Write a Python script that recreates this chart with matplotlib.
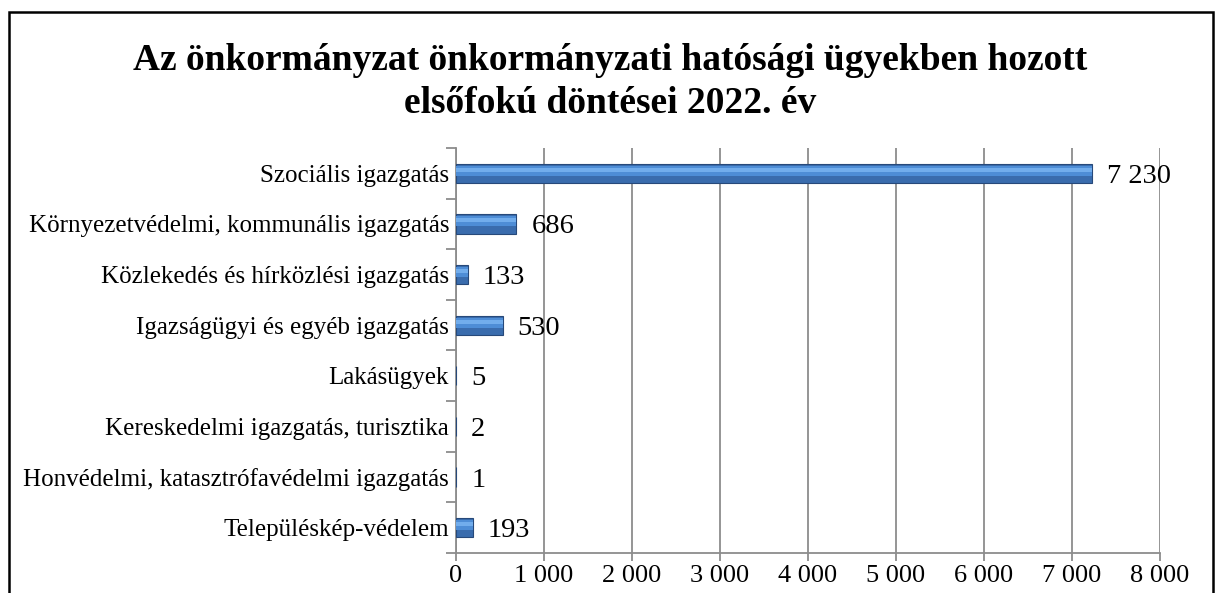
import matplotlib.pyplot as plt
import matplotlib.patches as mpatches
from matplotlib.ticker import FuncFormatter, FixedLocator

plt.rcParams['font.family'] = ['Liberation Serif', 'DejaVu Serif']

# Data
categories = [
    "Szociális igazgatás",
    "Környezetvédelmi, kommunális igazgatás",
    "Közlekedés és hírközlési igazgatás",
    "Igazságügyi és egyéb igazgatás",
    "Lakásügyek",
    "Kereskedelmi igazgatás, turisztika",
    "Honvédelmi, katasztrófavédelmi igazgatás",
    "Településkép-védelem",
]
values = [7230, 686, 133, 530, 5, 2, 1, 193]
x_ticks = [0, 1000, 2000, 3000, 4000, 5000, 6000, 7000, 8000]

title = "Az önkormányzat önkormányzati hatósági ügyekben hozott\nelsőfokú döntései 2022. év"

fig = plt.figure(figsize=(12.17, 5.93), dpi=100)
ax = fig.add_axes([0.3747, 0.0675, 0.5785, 0.683])

pos = list(range(len(categories)))[::-1]

# bars with a simple bevel look
ax.barh(pos, values, height=0.38, color="#3A6CAD", edgecolor="#27497A", linewidth=0.8, zorder=3)
ax.barh([p + 0.05 for p in pos], values, height=0.2, color="#4E8DD6", linewidth=0, zorder=4)
ax.barh([p + 0.07 for p in pos], values, height=0.08, color="#72ADEC", linewidth=0, zorder=4)

for p, v in zip(pos, values):
    ax.text(v + 170, p, f"{v:,}".replace(",", " "), va="center_baseline", ha="left",
            fontsize=20.5, zorder=5)

ax.set_xlim(0, 8000)
ax.set_ylim(-0.5, len(categories) - 0.5)
ax.set_xticks(x_ticks)
ax.xaxis.set_major_formatter(FuncFormatter(lambda x, _: f"{int(x):,}".replace(",", " ")))
ax.set_yticks(pos)
ax.set_yticklabels(categories, fontsize=18)
ax.yaxis.set_minor_locator(FixedLocator([p - 0.5 for p in range(len(categories) + 1)]))

ax.grid(axis="x", color="#8C8C8C", linewidth=1.3, zorder=0)
ax.tick_params(axis="x", labelsize=19, length=6, width=1.3, color="#8C8C8C", pad=3)
ax.tick_params(axis="y", which="major", length=0, pad=5)
ax.tick_params(axis="y", which="minor", length=7, width=1.3, color="#8C8C8C")
for s in ["top", "right"]:
    ax.spines[s].set_visible(False)
for s in ["left", "bottom"]:
    ax.spines[s].set_color("#8C8C8C")
    ax.spines[s].set_linewidth(1.3)

fig.text(0.501, 0.862, title, ha="center", va="center", fontsize=27,
         fontweight="bold", linespacing=1.28)

border = mpatches.Rectangle((9 / 1217, -0.1), 1204 / 1217, 1.1 - 12 / 593,
                            transform=fig.transFigure, fill=False,
                            edgecolor="black", linewidth=1.8)
fig.patches.append(border)

fig.savefig("out.png", dpi=100)
